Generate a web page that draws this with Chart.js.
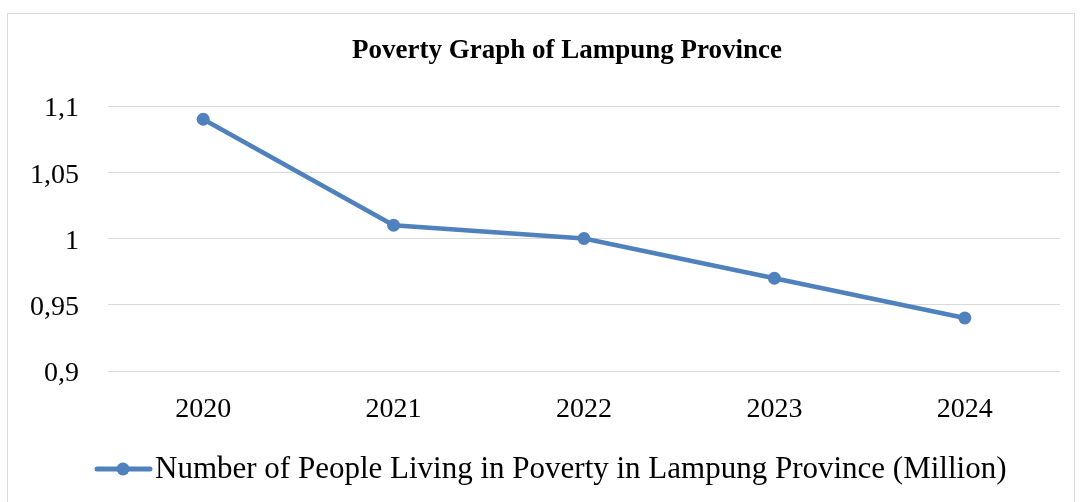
<!DOCTYPE html>
<html>
<head>
<meta charset="utf-8">
<script src="https://cdn.jsdelivr.net/npm/chart.js@4/dist/chart.umd.min.js"></script>
<style>
html,body{margin:0;padding:0;background:#fff;}
#wrap{position:absolute;left:0;top:0;width:1081px;height:502px;}
</style>
</head>
<body>
<div id="wrap"><canvas id="c" width="1081" height="502"></canvas></div>
<script>
const chartTitle = "Poverty Graph of Lampung Province";
const categories = ["2020", "2021", "2022", "2023", "2024"];
const seriesName = "Number of People Living in Poverty in Lampung Province (Million)";
const poorPeople = [1.09, 1.01, 1.00, 0.97, 0.94];
const yTicks = [0.9, 0.95, 1, 1.05, 1.1];

const FONT = "'Liberation Serif', 'Times New Roman', serif";
const BLUE = "#4F81BD";

const decor = {
  id: "decor",
  beforeDraw(chart) {
    const ctx = chart.ctx;
    ctx.save();
    ctx.fillStyle = "#fff";
    ctx.fillRect(0, 0, chart.width, chart.height);
    ctx.strokeStyle = "#d9d9d9";
    ctx.lineWidth = 1;
    ctx.strokeRect(7.5, 13.5, 1067, 500);
    ctx.restore();
  },
  afterDraw(chart) {
    const ctx = chart.ctx;
    ctx.save();
    ctx.fillStyle = "#000";
    ctx.textAlign = "center";
    ctx.textBaseline = "middle";
    ctx.font = "bold 27px " + FONT;
    ctx.fillText(chartTitle, 567, 51);
    // legend
    const ly = 469;
    ctx.strokeStyle = BLUE;
    ctx.lineWidth = 5;
    ctx.lineCap = "round";
    ctx.beginPath();
    ctx.moveTo(97, ly);
    ctx.lineTo(150, ly);
    ctx.stroke();
    ctx.fillStyle = BLUE;
    ctx.beginPath();
    ctx.arc(123, ly, 6.5, 0, Math.PI * 2);
    ctx.fill();
    ctx.fillStyle = "#000";
    ctx.textAlign = "left";
    ctx.font = "31px " + FONT;
    ctx.fillText(seriesName, 155, ly + 1);
    ctx.restore();
  }
};

new Chart(document.getElementById("c"), {
  type: "line",
  data: {
    labels: categories,
    datasets: [{
      label: seriesName,
      data: poorPeople,
      borderColor: BLUE,
      backgroundColor: BLUE,
      borderWidth: 4.5,
      pointRadius: 6.5,
      pointHoverRadius: 6.5,
      pointBackgroundColor: BLUE,
      pointBorderWidth: 0,
      tension: 0
    }]
  },
  options: {
    responsive: false,
    animation: false,
    devicePixelRatio: 1,
    layout: { padding: { left: 0, right: 21, top: 106, bottom: 71 } },
    plugins: { legend: { display: false }, title: { display: false }, tooltip: { enabled: false } },
    scales: {
      x: {
        offset: true,
        grid: { display: false, drawTicks: false },
        border: { display: false },
        ticks: { color: "#000", font: { family: FONT, size: 28 }, padding: 22, maxRotation: 0 },
        afterFit(s) { s.height = 60; }
      },
      y: {
        min: 0.9,
        max: 1.1,
        afterBuildTicks(s) { s.ticks = yTicks.map(v => ({ value: v })); },
        grid: { color: "#d9d9d9", lineWidth: 1, drawTicks: false },
        border: { display: false },
        ticks: {
          color: "#000",
          font: { family: FONT, size: 28 },
          padding: 29,
          labelOffset: 3,
          callback: v => String(Math.round(v * 100) / 100).replace(".", ",")
        },
        afterFit(s) { s.width = 108; }
      }
    }
  },
  plugins: [decor]
});
</script>
</body>
</html>
